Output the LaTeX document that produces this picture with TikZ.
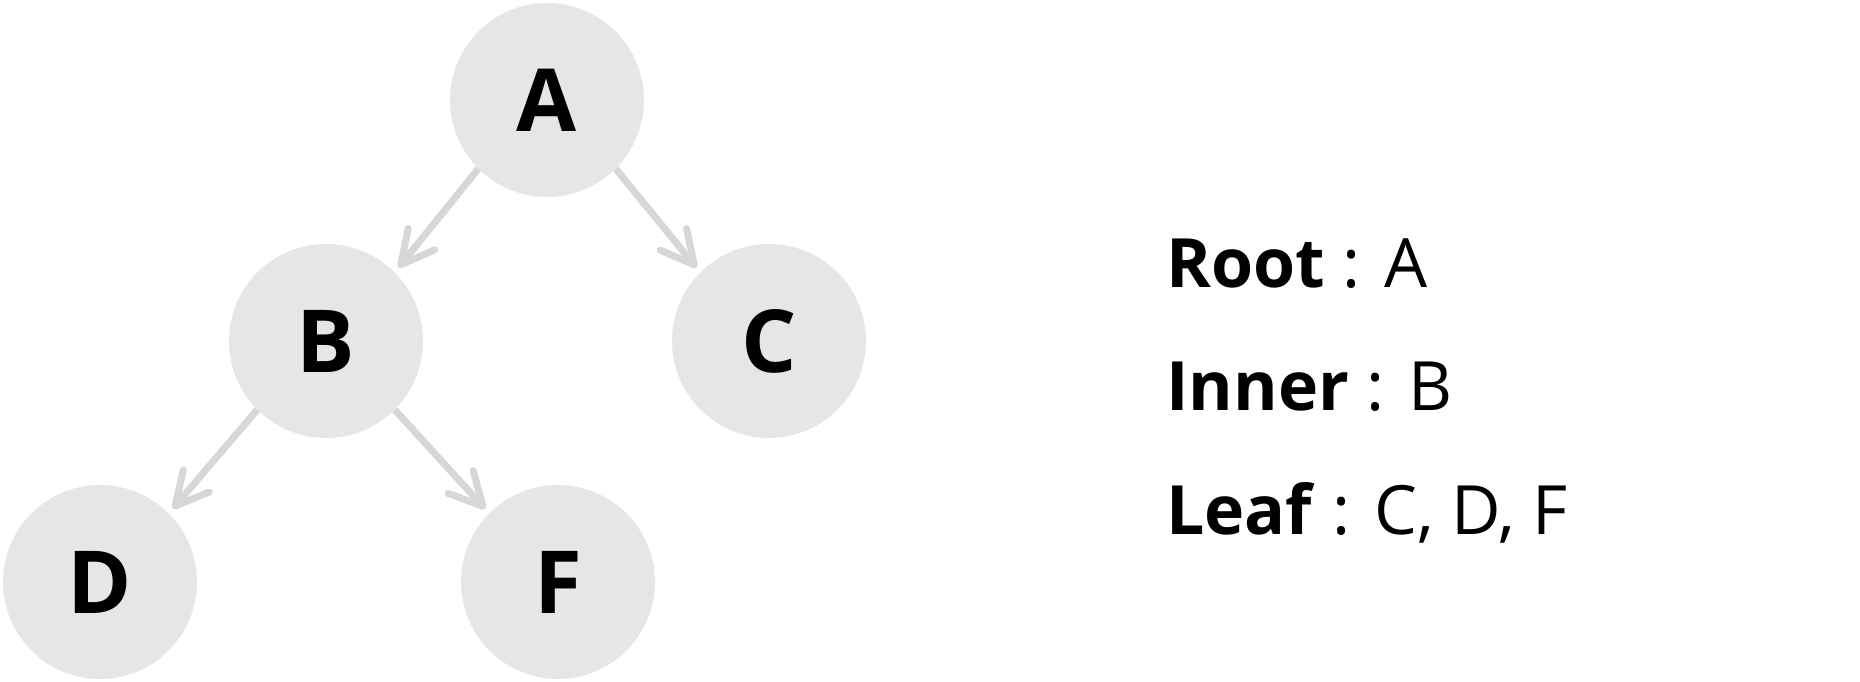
\documentclass[tikz,border=0pt]{standalone}
\usepackage{fontspec}
\setmainfont{Open Sans}
\usetikzlibrary{arrows.meta}
\definecolor{nodegray}{HTML}{E6E6E6}
\definecolor{edgegray}{HTML}{D7D7D7}
\tikzstyle{vertex}=[circle,fill=nodegray,minimum size=194pt,inner sep=0pt,font=\fontsize{87}{100}\selectfont\bfseries]
\tikzstyle{edge} = [draw,edgegray,line width=7pt,-{Straight Barb[length=33pt,width=34pt,round]},shorten >=6pt]
\tikzstyle{legend} = [anchor=base west,inner sep=0pt,font=\fontsize{68}{82}\selectfont]
\newcommand{\pxscale}{1pt}

\begin{document}
\begin{tikzpicture}[x=\pxscale, y=-\pxscale]
    \useasboundingbox (0,0) rectangle (1860,682);
    % First we draw the vertices
    \foreach \pos/\name in {{(547,100)/A}, {(326,341)/B}, {(769,341)/C}, {(100,582)/D}, {(558,582)/F}}
        \node[vertex] (\name) at \pos {\name};
    % Connect vertices with arrows, corner to corner
    \foreach \source/\sa/\dest/\da in {A/south west/B/north east, A/south east/C/north west,
                                        B/south west/D/north east, B/south east/F/north west}
        \path[edge] (\source.\sa) -- (\dest.\da);

    % Legend on the right
    \node[legend] (root) at (1166,287) {\textbf{Root} : A};
    \node[legend] (inner) at (1166,410) {\textbf{Inner} : B};
    \node[legend] (leaf) at (1166,534) {\textbf{Leaf} : C, D, F};
\end{tikzpicture}
\end{document}
